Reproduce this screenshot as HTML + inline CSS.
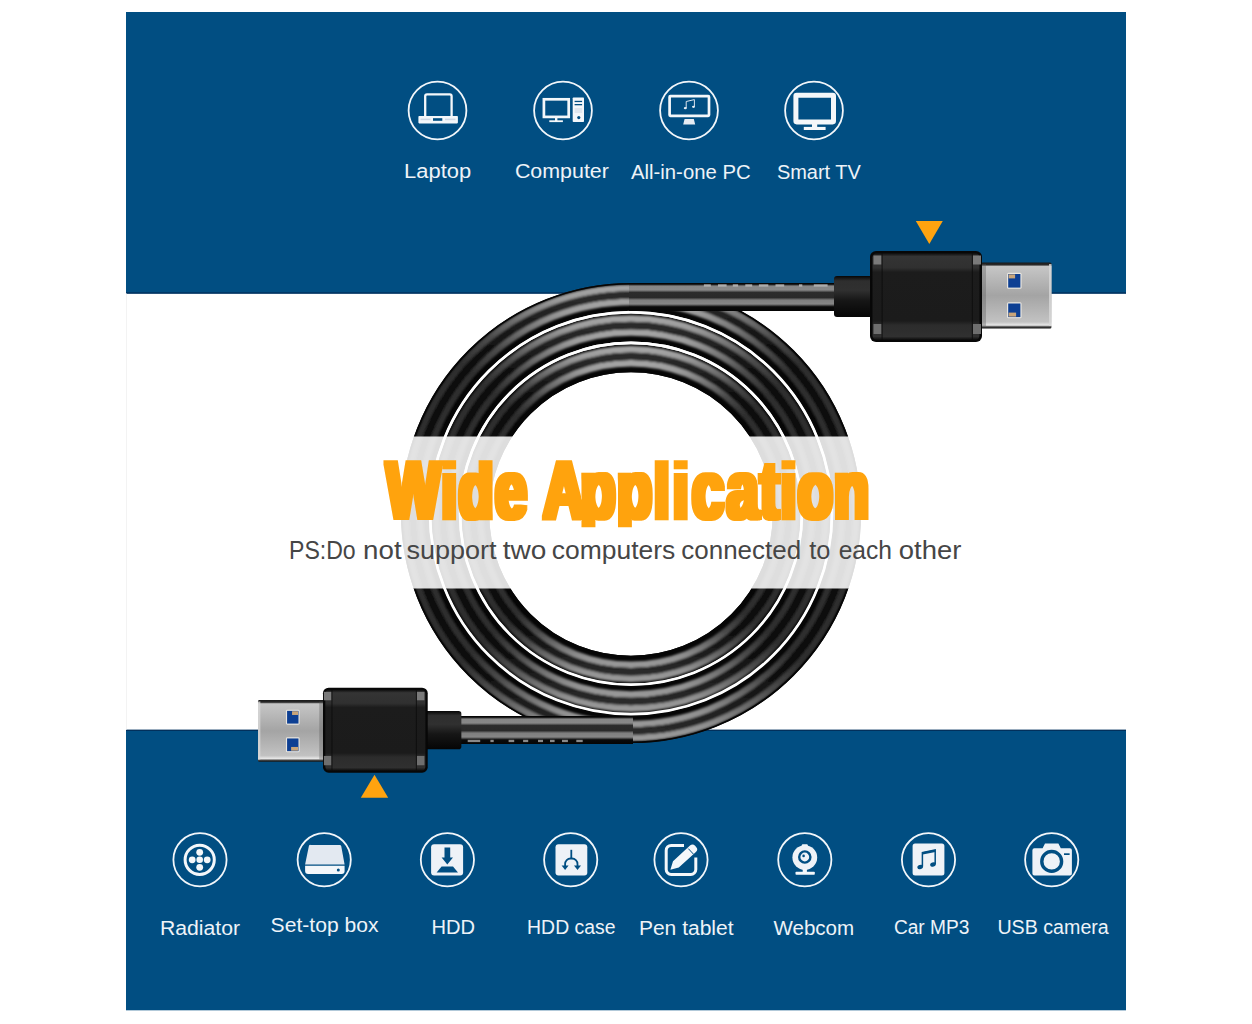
<!DOCTYPE html>
<html lang="en">
<head>
<meta charset="utf-8">
<title>Wide Application</title>
<style>
html,body{margin:0;padding:0;background:#fff;}
body{width:1252px;height:1024px;overflow:hidden;position:relative;font-family:"Liberation Sans",sans-serif;}
svg{position:absolute;left:0;top:0;display:block;}
text{font-family:"Liberation Sans",sans-serif;}
.lbl{font-size:20px;fill:#eef3f8;}
</style>
</head>
<body>
<svg width="1252" height="1024" viewBox="0 0 1252 1024">
<defs>
  <linearGradient id="hl" x1="0" y1="0" x2="0" y2="1">
    <stop offset="0" stop-color="#a4a4a4"/>
    <stop offset="0.025" stop-color="#9c9c9c"/>
    <stop offset="0.06" stop-color="#7a7a7a"/>
    <stop offset="0.11" stop-color="#4c4c4c"/>
    <stop offset="0.17" stop-color="#2e2e2e"/>
    <stop offset="0.83" stop-color="#2e2e2e"/>
    <stop offset="0.89" stop-color="#4a4a4a"/>
    <stop offset="0.94" stop-color="#747474"/>
    <stop offset="0.975" stop-color="#929292"/>
    <stop offset="1" stop-color="#989898"/>
  </linearGradient>
  <linearGradient id="dk" x1="0" y1="0" x2="0" y2="1">
    <stop offset="0" stop-color="#2c2c2c"/>
    <stop offset="0.13" stop-color="#0e0e0e"/>
    <stop offset="0.87" stop-color="#0e0e0e"/>
    <stop offset="1" stop-color="#2a2a2a"/>
  </linearGradient>
  <filter id="b1" x="-5%" y="-5%" width="110%" height="110%"><feGaussianBlur stdDeviation="1"/></filter>

  <linearGradient id="cab" x1="0" y1="0" x2="0" y2="1">
    <stop offset="0" stop-color="#050505"/>
    <stop offset="0.04" stop-color="#050505"/>
    <stop offset="0.11" stop-color="#868686"/>
    <stop offset="0.25" stop-color="#888888"/>
    <stop offset="0.34" stop-color="#2c2c2c"/>
    <stop offset="0.52" stop-color="#2a2a2a"/>
    <stop offset="0.61" stop-color="#7e7e7e"/>
    <stop offset="0.75" stop-color="#868686"/>
    <stop offset="0.85" stop-color="#0a0a0a"/>
    <stop offset="1" stop-color="#050505"/>
  </linearGradient>
  <linearGradient id="body" x1="0" y1="0" x2="0" y2="1">
    <stop offset="0" stop-color="#0a0a0a"/>
    <stop offset="0.04" stop-color="#343434"/>
    <stop offset="0.17" stop-color="#303030"/>
    <stop offset="0.22" stop-color="#1c1c1c"/>
    <stop offset="0.78" stop-color="#1b1b1b"/>
    <stop offset="0.83" stop-color="#2c2c2c"/>
    <stop offset="0.96" stop-color="#303030"/>
    <stop offset="1" stop-color="#0a0a0a"/>
  </linearGradient>
  <linearGradient id="metal" x1="0" y1="0" x2="0" y2="1">
    <stop offset="0" stop-color="#1a1a1a"/>
    <stop offset="0.035" stop-color="#2a2a2a"/>
    <stop offset="0.06" stop-color="#c6c6c6"/>
    <stop offset="0.5" stop-color="#a4a4a4"/>
    <stop offset="0.9" stop-color="#c2c2c2"/>
    <stop offset="0.95" stop-color="#e8e8e8"/>
    <stop offset="0.975" stop-color="#444"/>
    <stop offset="1" stop-color="#111"/>
  </linearGradient>
  <linearGradient id="sr" x1="0" y1="0" x2="0" y2="1">
    <stop offset="0" stop-color="#060606"/>
    <stop offset="0.12" stop-color="#2e2e2e"/>
    <stop offset="0.35" stop-color="#303030"/>
    <stop offset="0.6" stop-color="#161616"/>
    <stop offset="1" stop-color="#050505"/>
  </linearGradient>
  <g id="conn">
    <!-- strain relief -->
    <rect x="834" y="276" width="42" height="41" rx="3" fill="url(#sr)"/>
    <!-- body -->
    <rect x="870" y="251" width="112" height="91" rx="6" fill="#070707"/>
    <rect x="872.5" y="253" width="107" height="87" rx="4.5" fill="url(#body)"/>
    <rect x="873.5" y="255.5" width="8" height="9" fill="#7a7a7a"/>
    <rect x="873.5" y="324" width="8" height="10" fill="#6e6e6e"/>
    <rect x="973" y="255.5" width="8" height="9" fill="#7a7a7a"/>
    <rect x="973" y="324" width="8" height="10" fill="#6e6e6e"/>
    <rect x="881.5" y="253" width="1.2" height="87" fill="#0c0c0c" opacity="0.7"/>
    <rect x="971.8" y="253" width="1.2" height="87" fill="#0c0c0c" opacity="0.7"/>
  </g>
  <g id="connm">
    <!-- metal plug -->
    <rect x="981" y="262.5" width="70.5" height="66" rx="1.5" fill="url(#metal)"/>
    <rect x="981" y="264" width="5" height="62" fill="#555" opacity="0.35"/>
    <rect x="1049" y="264" width="2.5" height="62" fill="#d8d8d8" opacity="0.8"/>
    <rect x="1007" y="272.8" width="14.6" height="16" rx="1.5" fill="#e9e6e0"/>
    <rect x="1008.2" y="274" width="12.2" height="13.6" fill="#0d3f93"/>
    <rect x="1008.6" y="274.4" width="6.5" height="4" fill="#c9a57a"/>
    <rect x="1007" y="302.3" width="14.6" height="16" rx="1.5" fill="#e9e6e0"/>
    <rect x="1008.2" y="303.5" width="12.2" height="13.6" fill="#0d3f93"/>
    <rect x="1008.6" y="312.6" width="7.5" height="4" fill="#c9a57a"/>
  </g>
  <filter id="fat" x="-2%" y="-10%" width="104%" height="120%"><feMorphology operator="dilate" radius="2.8 1.7"/></filter>
  <clipPath id="tclip"><rect x="370" y="460.2" width="520" height="67"/></clipPath>
</defs>

<!-- BACKGROUND PANELS -->
<rect x="126" y="12" width="1000" height="281.5" fill="#014e82"/>
<rect x="126" y="292.3" width="1000" height="1.4" fill="#02305c"/>
<rect x="126" y="730" width="1000" height="280.3" fill="#014e82"/>
<rect x="126" y="729.6" width="1000" height="1.4" fill="#02305c"/>

<rect x="126" y="293.5" width="1" height="436" fill="#f3f3f3"/>
<!-- COIL -->
<g id="coil">
  <g fill="none" stroke="#060606" stroke-width="28">
    <circle cx="631" cy="513" r="216"/>
    <circle cx="631" cy="513.5" r="186"/>
    <circle cx="631" cy="514" r="155.8"/>
  </g>
  <g fill="none" filter="url(#b1)">
    <circle cx="631" cy="513" r="225" stroke="url(#hl)" stroke-width="6.5"/>
    <circle cx="631" cy="513" r="211" stroke="url(#hl)" stroke-width="6.5"/>
    <circle cx="631" cy="513" r="218" stroke="url(#dk)" stroke-width="7.6"/>
    <circle cx="631" cy="513.5" r="195" stroke="url(#hl)" stroke-width="6.5"/>
    <circle cx="631" cy="513.5" r="181" stroke="url(#hl)" stroke-width="6.5"/>
    <circle cx="631" cy="513.5" r="188" stroke="url(#dk)" stroke-width="7.6"/>
    <circle cx="631" cy="514" r="164.8" stroke="url(#hl)" stroke-width="6.5"/>
    <circle cx="631" cy="514" r="150.8" stroke="url(#hl)" stroke-width="6.5"/>
    <circle cx="631" cy="514" r="157.8" stroke="url(#dk)" stroke-width="7.6"/>
  </g>
  <g fill="none" stroke="#fff" stroke-width="2.7">
    <circle cx="631" cy="513.2" r="201"/>
    <circle cx="631" cy="513.8" r="170.9"/>
  </g>
  <g fill="none" stroke="#060606" stroke-width="1.6">
    <circle cx="631" cy="513" r="229.3"/>
    <circle cx="631" cy="514" r="142.5"/>
  </g>
</g>
<!--CABLES-->
<rect x="629" y="283" width="207" height="28" fill="url(#cab)"/>
<rect x="460" y="716" width="173" height="28" fill="url(#cab)"/>
<g fill="#e0e0e0" opacity="0.6">
  <rect x="703.9" y="284.2" width="6.9" height="2.3"/><rect x="718" y="284.2" width="8.6" height="2.3"/>
  <rect x="732.8" y="284.2" width="5.3" height="2.3"/><rect x="745.3" y="284.2" width="6.9" height="2.3"/>
  <rect x="758.9" y="284.2" width="9.4" height="2.3"/><rect x="775.5" y="284.2" width="8.7" height="2.3"/>
  <rect x="799" y="284.2" width="3.3" height="2.3"/><rect x="813.8" y="284.2" width="13.8" height="2.3"/>
  <rect x="467.7" y="739.8" width="12.5" height="2.3"/><rect x="490.4" y="739.8" width="3.3" height="2.3"/>
  <rect x="508.6" y="739.8" width="5.6" height="2.3"/><rect x="523.1" y="739.8" width="5.1" height="2.3"/>
  <rect x="538" y="739.8" width="5" height="2.3"/><rect x="550" y="739.8" width="4.6" height="2.3"/>
  <rect x="562" y="739.8" width="5.9" height="2.3"/><rect x="576.3" y="739.8" width="6.4" height="2.3"/>
</g>
<!--CONNECTORS-->
<use href="#connm"/>
<use href="#conn"/>
<use href="#connm" transform="translate(375.35 731.9) scale(-0.935 0.935) translate(-926 -296.5)"/>
<use href="#conn" transform="translate(375.35 730.2) scale(-0.935 0.935) translate(-926 -296.5)"/>
<path d="M915.8 221 L942.8 221 L929.3 244 Z" fill="#ffa30f"/>
<path d="M360.8 797.8 L388.2 797.8 L374.5 774.8 Z" fill="#ffa30f"/>

<!-- TRANSLUCENT BAND -->
<rect x="380" y="436.5" width="500" height="152" fill="#fff" fill-opacity="0.865"/>

<!-- TITLE -->
<g clip-path="url(#tclip)"><g filter="url(#fat)"><text x="0" y="0" transform="translate(386.3 517.5) scale(0.70 1)" font-size="82" font-weight="700" fill="#ffa30f" letter-spacing="1.9">Wide A<tspan dx="-8">p</tspan>p<tspan dx="0.5">l</tspan><tspan dx="2.5">i</tspan><tspan dx="3">c</tspan><tspan dx="2">a</tspan>tion</text></g></g>
<text y="559.1" font-size="25.5" fill="#464646"><tspan x="289.0" textLength="66.7" lengthAdjust="spacingAndGlyphs">PS:Do</tspan> <tspan x="363.1" textLength="38.5" lengthAdjust="spacingAndGlyphs">not</tspan> <tspan x="406.4" textLength="90.2" lengthAdjust="spacingAndGlyphs">support</tspan> <tspan x="502.8" textLength="43.6" lengthAdjust="spacingAndGlyphs">two</tspan> <tspan x="551.8" textLength="123.5" lengthAdjust="spacingAndGlyphs">computers</tspan> <tspan x="681.3" textLength="119.8" lengthAdjust="spacingAndGlyphs">connected</tspan> <tspan x="809.3" textLength="21.2" lengthAdjust="spacingAndGlyphs">to</tspan> <tspan x="838.7" textLength="53.3" lengthAdjust="spacingAndGlyphs">each</tspan> <tspan x="898.8" textLength="62.5" lengthAdjust="spacingAndGlyphs">other</tspan></text>

<!--ICONS-->
<g id="icons-top" fill="none" stroke="#f2f6fa" stroke-width="1.8">
  <circle cx="437.5" cy="110.5" r="28.9"/>
  <circle cx="563" cy="110.5" r="28.9"/>
  <circle cx="689" cy="110.5" r="28.9"/>
  <circle cx="814" cy="110.5" r="28.9"/>
</g>
<!-- laptop -->
<g>
  <path d="M425.2 116 V96.2 a1.8 1.8 0 0 1 1.8 -1.8 H449.8 a1.8 1.8 0 0 1 1.8 1.8 V116" fill="none" stroke="#f4f7fa" stroke-width="2.3"/>
  <rect x="418.4" y="116" width="39.5" height="7.4" rx="0.8" fill="#f4f7fa"/>
  <rect x="433" y="118.2" width="9.3" height="2.6" fill="#014e82"/>
  <rect x="420.5" y="118.6" width="10" height="1.6" fill="#cfd9e6"/><rect x="445" y="118.6" width="10.5" height="1.6" fill="#cfd9e6"/>
</g>
<!-- computer -->
<g>
  <rect x="543.9" y="99.3" width="24.8" height="17.6" fill="none" stroke="#f4f7fa" stroke-width="2.7"/>
  <rect x="555" y="118" width="2.4" height="3" fill="#f4f7fa"/>
  <rect x="549.3" y="120.3" width="13.6" height="1.8" fill="#f4f7fa"/>
  <rect x="572.7" y="97.4" width="11.3" height="24.6" rx="0.8" fill="#f4f7fa"/>
  <rect x="574.6" y="100.8" width="7.5" height="1.3" fill="#014e82"/>
  <rect x="574.6" y="104" width="7.5" height="1.3" fill="#014e82"/>
  <rect x="574.6" y="108" width="7.5" height="5" fill="#dfe6ee"/>
  <circle cx="578.8" cy="117.6" r="1.6" fill="#014e82"/>
</g>
<!-- all-in-one -->
<g>
  <rect x="669.6" y="96.2" width="39.4" height="19.6" rx="0.8" fill="none" stroke="#f4f7fa" stroke-width="2.7"/>
  <path d="M684.6 119 H693.8 L695.2 124.4 H683.2 Z" fill="#e6ecf3"/>
  <path d="M686.2 101.5 L694.4 99.6 V106.6 M686.2 101.5 V108" fill="none" stroke="#dbe4ee" stroke-width="1"/>
  <ellipse cx="685.3" cy="108.2" rx="1.5" ry="1.1" fill="#e8eef5"/>
  <ellipse cx="693.5" cy="106.8" rx="1.5" ry="1.1" fill="#e8eef5"/>
</g>
<!-- smart tv -->
<g>
  <rect x="795.9" y="95.3" width="37.6" height="26.6" rx="0.8" fill="none" stroke="#f4f7fa" stroke-width="5"/>
  <rect x="812" y="124" width="5.2" height="3.6" fill="#f4f7fa"/>
  <rect x="803.8" y="126.9" width="21.8" height="3.1" fill="#f4f7fa"/>
</g>
<!--ICONS-BOTTOM-->
<g id="icons-bot" fill="none" stroke="#f2f6fa" stroke-width="1.8">
  <circle cx="200" cy="859.8" r="26.6"/>
  <circle cx="324.2" cy="859.8" r="26.6"/>
  <circle cx="447.4" cy="859.8" r="26.6"/>
  <circle cx="570.7" cy="859.8" r="26.6"/>
  <circle cx="681" cy="859.8" r="26.6"/>
  <circle cx="804.8" cy="859.8" r="26.6"/>
  <circle cx="928.5" cy="859.8" r="26.6"/>
  <circle cx="1051.7" cy="859.8" r="26.6"/>
</g>
<!-- radiator -->
<g>
  <circle cx="199.7" cy="859.8" r="14.6" fill="none" stroke="#f4f7fa" stroke-width="3"/>
  <g fill="#f4f7fa">
    <circle cx="199.7" cy="859.8" r="3.3"/>
    <circle cx="199.7" cy="852.3" r="3.4"/>
    <circle cx="199.7" cy="867.3" r="3.4"/>
    <circle cx="192.2" cy="859.8" r="3.4"/>
    <circle cx="207.2" cy="859.8" r="3.4"/>
  </g>
</g>
<!-- set-top box -->
<g>
  <path d="M310.6 844.9 H339.8 a1.5 1.5 0 0 1 1.4 1 L344.6 864.4 H305.1 L308.9 845.9 a1.5 1.5 0 0 1 1.7 -1 Z" fill="#e3e9f1"/>
  <path d="M305.1 865.7 H344.6 V871 a3 3 0 0 1 -3 3 H308.1 a3 3 0 0 1 -3 -3 Z" fill="#f4f7fa"/>
  <circle cx="338.3" cy="870.1" r="1.5" fill="#014e82"/>
</g>
<!-- hdd -->
<g>
  <rect x="431.1" y="844.3" width="32" height="31.1" rx="3" fill="#eef2f7"/>
  <path d="M444.5 847.4 H450.2 V857.6 H453 L447.3 864.6 L441.6 857.6 H444.5 Z" fill="#014e82"/>
  <path d="M441.6 866.5 H453 L458 872.4 H436.6 Z" fill="#014e82"/>
</g>
<!-- hdd case -->
<g>
  <rect x="555.5" y="844.3" width="31.8" height="31.1" rx="3" fill="#eef2f7"/>
  <g fill="none" stroke="#014e82" stroke-width="1.8">
    <path d="M571.3 849.8 V858.5"/>
    <path d="M565.1 866.5 V864 a5.5 5.5 0 0 1 5.5 -5.5 h1.4 a5.5 5.5 0 0 1 5.5 5.5 V866.5"/>
  </g>
  <path d="M561.6 865.5 H568.6 L565.1 870 Z" fill="#014e82"/>
  <path d="M574 865.5 H581 L577.5 870 Z" fill="#014e82"/>
</g>
<!-- pen tablet -->
<g>
  <path d="M684 845.4 H671.2 a5 5 0 0 0 -5 5 V869.5 a5 5 0 0 0 5 5 H690.8 a5 5 0 0 0 5 -5 V857.5" fill="none" stroke="#f4f7fa" stroke-width="3"/>
  <path d="M670.4 869.8 L673 861.2 L690 845.6 a3.6 3.6 0 0 1 5.1 0.2 l1 1.1 a3.6 3.6 0 0 1 -0.2 5.1 L678.8 867.4 Z" fill="#f4f7fa"/>
  <path d="M688.3 848.6 L693.6 854.3" stroke="#014e82" stroke-width="1" fill="none"/>
</g>
<!-- webcam -->
<g>
  <rect x="801.8" y="844.2" width="6" height="3" rx="1" fill="#f4f7fa"/>
  <circle cx="804.8" cy="857.6" r="12.4" fill="#eef2f7"/>
  <circle cx="804.8" cy="857" r="5.6" fill="none" stroke="#014e82" stroke-width="2.4"/>
  <circle cx="803.6" cy="855.9" r="1.3" fill="#014e82"/>
  <rect x="802.7" y="869" width="4.2" height="3.6" fill="#f4f7fa"/>
  <rect x="795.5" y="871.7" width="19.3" height="3.1" rx="0.8" fill="#f4f7fa"/>
</g>
<!-- car mp3 -->
<g>
  <rect x="912.6" y="843.6" width="31.8" height="31.8" rx="2.5" fill="#eef2f7"/>
  <path d="M922.4 866.5 V852.6 L935.2 850 V864" fill="none" stroke="#014e82" stroke-width="1.5"/>
  <path d="M922.4 853.4 L935.2 850.8" fill="none" stroke="#014e82" stroke-width="2.2"/>
  <ellipse cx="920.2" cy="867" rx="2.9" ry="2.1" fill="#014e82" transform="rotate(-20 920.2 867)"/>
  <ellipse cx="933" cy="864.5" rx="2.9" ry="2.1" fill="#014e82" transform="rotate(-20 933 864.5)"/>
</g>
<!-- usb camera -->
<g>
  <path d="M1034.4 848.2 H1042.6 L1045 843.4 H1058.4 L1060.8 848.2 H1069.9 a2 2 0 0 1 2 2 V873.4 a2 2 0 0 1 -2 2 H1034.4 a2 2 0 0 1 -2 -2 V850.2 a2 2 0 0 1 2 -2 Z" fill="#eef2f7"/>
  <circle cx="1051.7" cy="861.4" r="9.9" fill="none" stroke="#014e82" stroke-width="3.4"/>
  <rect x="1064" y="853.3" width="5.6" height="1.7" fill="#014e82"/>
</g>
<!--LABELS-->
<g class="lbl">
  <text x="404.1" y="178.4" textLength="67.0" lengthAdjust="spacingAndGlyphs">Laptop</text>
  <text x="514.9" y="178.4" textLength="94.0" lengthAdjust="spacingAndGlyphs">Computer</text>
  <text x="631.0" y="178.8" textLength="119.6" lengthAdjust="spacingAndGlyphs">All-in-one PC</text>
  <text x="776.9" y="179.4" textLength="84.0" lengthAdjust="spacingAndGlyphs">Smart TV</text>
  <text x="159.9" y="934.6" textLength="80.2" lengthAdjust="spacingAndGlyphs">Radiator</text>
  <text x="270.6" y="931.5" textLength="108.0" lengthAdjust="spacingAndGlyphs">Set-top box</text>
  <text x="431.4" y="934" textLength="43.6" lengthAdjust="spacingAndGlyphs">HDD</text>
  <text x="527.1" y="934" textLength="88.5" lengthAdjust="spacingAndGlyphs">HDD case</text>
  <text x="638.9" y="934.6" textLength="94.7" lengthAdjust="spacingAndGlyphs">Pen tablet</text>
  <text x="773.4" y="934.6" textLength="80.8" lengthAdjust="spacingAndGlyphs">Webcom</text>
  <text x="893.9" y="933.6" textLength="75.5" lengthAdjust="spacingAndGlyphs">Car MP3</text>
  <text x="997.4" y="933.6" textLength="111.4" lengthAdjust="spacingAndGlyphs">USB camera</text>
</g>
</svg>
</body>
</html>
